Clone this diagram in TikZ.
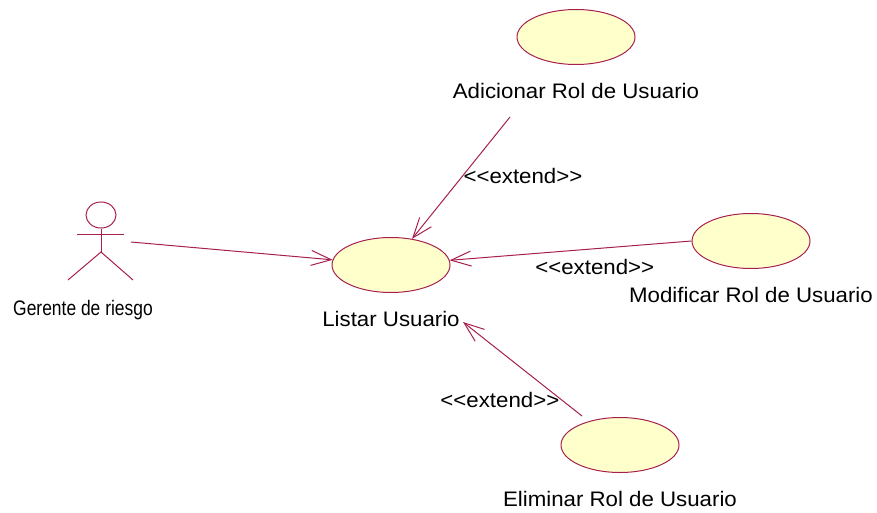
\documentclass[tikz,border=0pt]{standalone}
\usepackage{fontspec}
\setmainfont{Liberation Sans}
\newfontfamily\widefont[FakeStretch=1.06]{Liberation Sans}
\newfontfamily\narrowfont[FakeStretch=0.83]{Liberation Sans}
\usetikzlibrary{arrows.meta, positioning, shapes.geometric}
\definecolor{umlline}{HTML}{A6204F}
\definecolor{umlfill}{HTML}{FFFFCC}
\newcommand{\extendtext}{{<}{<}extend{>}{>}}
\tikzset{
    usecase/.style={ellipse, draw=umlline, fill=umlfill, line width=1pt, minimum width=118pt, minimum height=55pt, inner sep=0pt},
    uclabel/.style={font=\widefont\fontsize{21}{23}\selectfont, inner sep=0pt},
    ucnote/.style={font=\widefont\fontsize{21}{23}\selectfont, inner sep=2pt},
    assoc/.style={draw=umlline, line width=1pt, -{Straight Barb[length=20pt, width=15pt]}},
    stick/.style={draw=umlline, line width=1pt}
}

\begin{document}
\begin{tikzpicture}[x=1pt, y=-1pt]
    \useasboundingbox (0,0) rectangle (877,513);
    \node[usecase](listar) at (391,265){};
    \node[usecase](adicionar) at (576,37){};
    \node[usecase](modificar) at (751,241){};
    \node[usecase](eliminar) at (620,445){};
    \node[uclabel, below=18pt of listar](listarlbl){Listar Usuario};
    \node[uclabel, below=18pt of adicionar](adicionarlbl){Adicionar Rol de Usuario};
    \node[uclabel, below=18pt of modificar](modificarlbl){Modificar Rol de Usuario};
    \node[uclabel, below=18pt of eliminar](eliminarlbl){Eliminar Rol de Usuario};
    \node[ellipse, draw=umlline, line width=1pt, minimum width=30pt, minimum height=26pt, inner sep=0pt](head) at (101,215){};
    \coordinate (armleft) at (77,234);
    \coordinate (armright) at (124,234);
    \coordinate (hip) at (101,252);
    \coordinate (footleft) at (68,280);
    \coordinate (footright) at (133,280);
    \coordinate (actorout) at (131,242);
    \coordinate (adicionarout) at (510,117);
    \coordinate (eliminarout) at (582,416);
    \coordinate (listarin) at (463,322);
    \node[font=\narrowfont\fontsize{21}{23}\selectfont, inner sep=0pt](gerente) at (83,310){Gerente de riesgo};
    \draw[stick] (head) -- (hip);
    \draw[stick] (armleft) -- (armright);
    \draw[stick] (footleft) -- (hip) -- (footright);
    \draw[assoc] (actorout) -- (listar);
    \draw[assoc] (adicionarout) -- (listar) node[ucnote, pos=0.5, right, black, yshift=2pt]{\extendtext};
    \draw[assoc] (modificar.west) -- (listar) node[ucnote, pos=0.4, below, black, yshift=-8pt]{\extendtext};
    \draw[assoc] (eliminarout) -- (listarin) node[ucnote, pos=0.17, left, black]{\extendtext};
\end{tikzpicture}
\end{document}
